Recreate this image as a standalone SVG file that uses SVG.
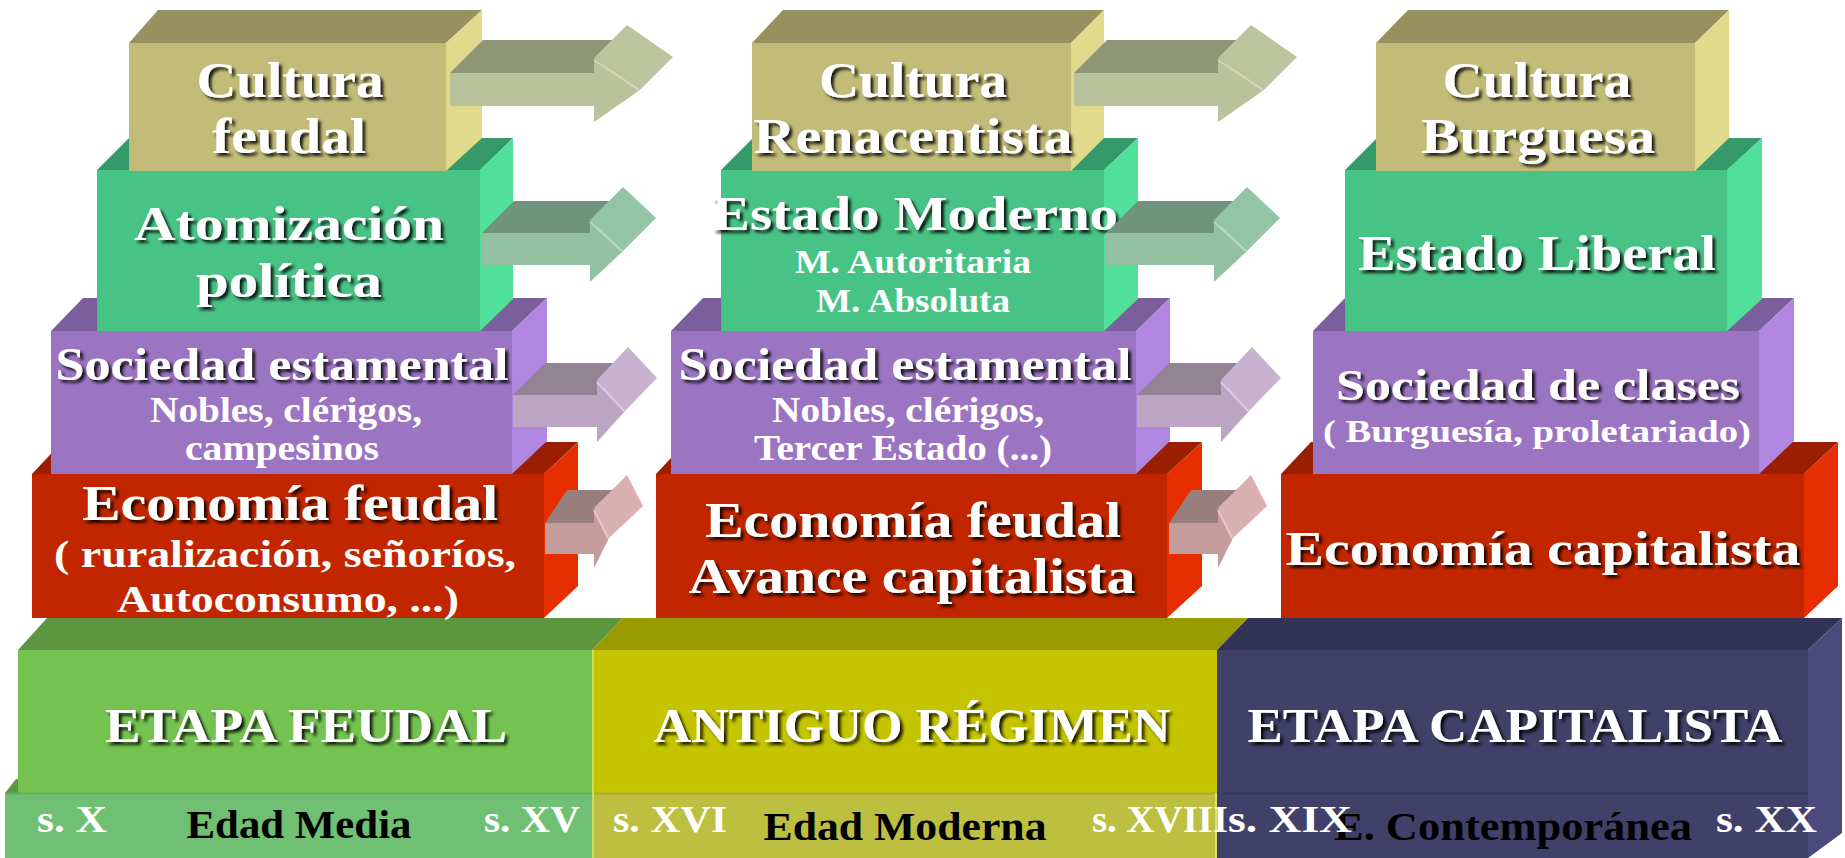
<svg xmlns="http://www.w3.org/2000/svg" width="1845" height="858" viewBox="0 0 1845 858">
<defs>
<filter id="sh" x="-5%" y="-30%" width="115%" height="170%">
<feDropShadow dx="3" dy="3" stdDeviation="1.4" flood-color="#000" flood-opacity="0.85"/>
</filter>
<g id="arrC">
<polygon class="at" points="450,73 483,40 627,40 594,73"/>
<polygon class="as" points="594,58 627,25 673,57 640,90"/>
<polygon class="af" points="450,73 594,73 594,58 640,90 594,122 594,106 450,106"/>
<line class="al" x1="594" y1="60" x2="639" y2="90"/>
</g>
<g id="arrG">
<polygon class="gt" points="482,233 514,201 623,201 590,233"/>
<polygon class="gs" points="590,220 623,187 656,218 623,251"/>
<polygon class="gf" points="482,233 590,233 590,220 623,251 590,282 590,265 482,265"/>
<line class="gl" x1="590" y1="222" x2="622" y2="251"/>
</g>
<g id="arrP">
<polygon class="pt" points="513,395 545,363 629,363 597,395"/>
<polygon class="ps" points="597,380 628,347 657,378 625,411"/>
<polygon class="pf" points="513,395 597,395 597,380 625,411 597,442 597,427 513,427"/>
<line class="pl" x1="597" y1="382" x2="624" y2="411"/>
</g>
<g id="arrR">
<polygon class="rt" points="545,523 567,490 627,490 594,523"/>
<polygon class="rs" points="594,508 627,475 643,506 609,538"/>
<polygon class="rf" points="545,523 594,523 594,508 609,538 594,568 594,554 545,554"/>
<line class="rl" x1="594" y1="510" x2="608" y2="538"/>
</g>
</defs>
<style>
text{font-family:"Liberation Serif","Times New Roman",serif;font-weight:bold;}
.h{fill:#fff;filter:url(#sh);}
.s{fill:#fff;}
.k{fill:#000;}
.m{text-anchor:middle;}
.cT{fill:#96915e;} .cF{fill:#c2bc78;} .cS{fill:#e0da8a;}
.gT{fill:#35996a;} .gF{fill:#48c386;} .gS{fill:#50e09a;}
.pT{fill:#7a5f9c;} .pF{fill:#9b75c2;} .pS{fill:#b086e0;}
.rT{fill:#9a1f00;} .rF{fill:#c22600;} .rS{fill:#e62e00;}
.at{fill:#8e9676;} .af{fill:#b9c29a;} .as{fill:#bcc49d;} .al{stroke:#d2d9b4;stroke-width:2;}
.gt{fill:#6f947a;} .gf{fill:#92c0a0;} .gs{fill:#93c4a3;} .gl{stroke:#b4dcc0;stroke-width:2;}
.pt{fill:#928494;} .pf{fill:#bba5c3;} .ps{fill:#c9b2d0;} .pl{stroke:#dccae2;stroke-width:2;}
.rt{fill:#9a7e7e;} .rf{fill:#c49c9c;} .rs{fill:#d8b0b0;} .rl{stroke:#e8c8c8;stroke-width:2;}
</style>
<rect width="1845" height="858" fill="#fff"/>

<!-- bottom band -->
<g id="etapa-feudal">
<polygon fill="#5c9640" points="18,650 47,618 623,618 592,650"/>
<rect x="18" y="650" width="574" height="143" fill="#74c350"/>
<polygon fill="#5c9640" points="5,793 16,779 18,779 18,793"/>
<rect x="5" y="793" width="587" height="65" fill="#70c073"/>
<line x1="5" y1="793.5" x2="592" y2="793.5" stroke="#64ae64" stroke-width="2"/>
<text class="h m" x="306" y="742" font-size="49" textLength="402" lengthAdjust="spacingAndGlyphs">ETAPA FEUDAL</text>
<text class="k m" x="299" y="838" font-size="39" textLength="225" lengthAdjust="spacingAndGlyphs">Edad Media</text>
<text class="s" x="37" y="832" font-size="38" textLength="70" lengthAdjust="spacingAndGlyphs">s. X</text>
<text class="s" x="484" y="832" font-size="38" textLength="96" lengthAdjust="spacingAndGlyphs">s. XV</text>
</g>
<g id="antiguo-regimen">
<polygon fill="#999900" points="592,650 623,618 1248,618 1217,650"/>
<rect x="592" y="650" width="625" height="143" fill="#c4c400"/>
<rect x="592" y="793" width="625" height="65" fill="#bcbf40"/>
<line x1="592" y1="793.5" x2="1217" y2="793.5" stroke="#adad30" stroke-width="2"/>
<line x1="593" y1="650" x2="593" y2="858" stroke="#c8e060" stroke-width="2"/>
<text class="h m" x="912" y="742" font-size="49" textLength="517" lengthAdjust="spacingAndGlyphs">ANTIGUO RÉGIMEN</text>
<text class="k m" x="905" y="840" font-size="39" textLength="283" lengthAdjust="spacingAndGlyphs">Edad Moderna</text>
<text class="s" x="613" y="832" font-size="38" textLength="114" lengthAdjust="spacingAndGlyphs">s. XVI</text>
</g>
<g id="etapa-capitalista">
<polygon fill="#333355" points="1217,650 1248,618 1842,618 1808,650"/>
<rect x="1217" y="650" width="591" height="143" fill="#404068"/>
<polygon fill="#4a4a7c" points="1808,650 1842,618 1842,833 1808,858"/>
<rect x="1217" y="793" width="591" height="65" fill="#404068"/>
<line x1="1217" y1="793.5" x2="1808" y2="793.5" stroke="#383860" stroke-width="2"/>
<line x1="1216" y1="793" x2="1216" y2="858" stroke="#e0e060" stroke-width="2"/>
<text class="h m" x="1515" y="742" font-size="49" textLength="535" lengthAdjust="spacingAndGlyphs">ETAPA CAPITALISTA</text>
<text class="k m" x="1513" y="840" font-size="39" textLength="358" lengthAdjust="spacingAndGlyphs">E. Contemporánea</text>
<text class="s" x="1092" y="832" font-size="38" textLength="136" lengthAdjust="spacingAndGlyphs">s. XVIII</text>
<text class="s" x="1228" y="832" font-size="38" textLength="124" lengthAdjust="spacingAndGlyphs">s. XIX</text>
<text class="s" x="1716" y="832" font-size="38" textLength="101" lengthAdjust="spacingAndGlyphs">s. XX</text>
</g>

<!-- column 1 -->
<g id="economia-feudal">
<polygon class="rT" points="32,474 62,442 578,442 544,474"/>
<rect class="rF" x="32" y="474" width="512" height="144"/>
<polygon class="rS" points="544,474 578,442 578,586 544,618"/>
<text class="h m" x="290" y="520" font-size="51" textLength="416" lengthAdjust="spacingAndGlyphs">Economía feudal</text>
<text class="s m" x="285" y="567" font-size="38" textLength="462" lengthAdjust="spacingAndGlyphs">( ruralización, señoríos,</text>
<text class="s m" x="288" y="612" font-size="38" textLength="342" lengthAdjust="spacingAndGlyphs">Autoconsumo, ...)</text>
</g>
<g id="sociedad-estamental-1">
<polygon class="pT" points="51,331 83,298 547,298 512,331"/>
<rect class="pF" x="51" y="331" width="461" height="143"/>
<polygon class="pS" points="512,331 547,298 547,441 512,474"/>
<text class="h m" x="282" y="380" font-size="46" textLength="453" lengthAdjust="spacingAndGlyphs">Sociedad estamental</text>
<text class="s m" x="286" y="422" font-size="35" textLength="272" lengthAdjust="spacingAndGlyphs">Nobles, clérigos,</text>
<text class="s m" x="282" y="460" font-size="35" textLength="194" lengthAdjust="spacingAndGlyphs">campesinos</text>
</g>
<g id="atomizacion-politica">
<polygon class="gT" points="97,170 129,138 513,138 480,170"/>
<rect class="gF" x="97" y="170" width="383" height="161"/>
<polygon class="gS" points="480,170 513,138 513,299 480,331"/>
<text class="h m" x="289" y="240" font-size="49" textLength="310" lengthAdjust="spacingAndGlyphs">Atomización</text>
<text class="h m" x="289" y="297" font-size="49" textLength="186" lengthAdjust="spacingAndGlyphs">política</text>
</g>
<g id="cultura-feudal">
<polygon class="cT" points="129,43 158,10 482,10 446,43"/>
<rect class="cF" x="129" y="43" width="317" height="128"/>
<polygon class="cS" points="446,43 482,10 482,138 446,171"/>
<text class="h m" x="290" y="97" font-size="51" textLength="187" lengthAdjust="spacingAndGlyphs">Cultura</text>
<text class="h m" x="289" y="153" font-size="51" textLength="154" lengthAdjust="spacingAndGlyphs">feudal</text>
</g>

<!-- column 2 -->
<g id="economia-feudal-avance">
<polygon class="rT" points="656,474 686,442 1202,442 1167,474"/>
<rect class="rF" x="656" y="474" width="511" height="144"/>
<polygon class="rS" points="1167,474 1202,442 1202,586 1167,618"/>
<text class="h m" x="913" y="537" font-size="51" textLength="416" lengthAdjust="spacingAndGlyphs">Economía feudal</text>
<text class="h m" x="912" y="593" font-size="51" textLength="447" lengthAdjust="spacingAndGlyphs">Avance capitalista</text>
</g>
<g id="sociedad-estamental-2">
<polygon class="pT" points="671,331 703,298 1170,298 1136,331"/>
<rect class="pF" x="671" y="331" width="465" height="143"/>
<polygon class="pS" points="1136,331 1170,298 1170,441 1136,474"/>
<text class="h m" x="905" y="380" font-size="46" textLength="453" lengthAdjust="spacingAndGlyphs">Sociedad estamental</text>
<text class="s m" x="908" y="422" font-size="35" textLength="272" lengthAdjust="spacingAndGlyphs">Nobles, clérigos,</text>
<text class="s m" x="903" y="460" font-size="35" textLength="298" lengthAdjust="spacingAndGlyphs">Tercer Estado (...)</text>
</g>
<g id="estado-moderno">
<polygon class="gT" points="721,170 753,138 1138,138 1104,170"/>
<rect class="gF" x="721" y="170" width="383" height="161"/>
<polygon class="gS" points="1104,170 1138,138 1138,299 1104,331"/>
<text class="h m" x="915" y="230" font-size="49" textLength="406" lengthAdjust="spacingAndGlyphs">Estado Moderno</text>
<text class="s m" x="913" y="273" font-size="34" textLength="236" lengthAdjust="spacingAndGlyphs">M. Autoritaria</text>
<text class="s m" x="913" y="312" font-size="34" textLength="194" lengthAdjust="spacingAndGlyphs">M. Absoluta</text>
</g>
<g id="cultura-renacentista">
<polygon class="cT" points="752,43 783,10 1104,10 1071,43"/>
<rect class="cF" x="752" y="43" width="319" height="128"/>
<polygon class="cS" points="1071,43 1104,10 1104,138 1071,171"/>
<text class="h m" x="913" y="97" font-size="51" textLength="188" lengthAdjust="spacingAndGlyphs">Cultura</text>
<text class="h m" x="913" y="153" font-size="51" textLength="319" lengthAdjust="spacingAndGlyphs">Renacentista</text>
</g>

<!-- column 3 -->
<g id="economia-capitalista">
<polygon class="rT" points="1281,474 1311,442 1838,442 1804,474"/>
<rect class="rF" x="1281" y="474" width="523" height="144"/>
<polygon class="rS" points="1804,474 1838,442 1838,586 1804,618"/>
<text class="h m" x="1543" y="565" font-size="49" textLength="515" lengthAdjust="spacingAndGlyphs">Economía capitalista</text>
</g>
<g id="sociedad-de-clases">
<polygon class="pT" points="1313,331 1345,298 1794,298 1759,331"/>
<rect class="pF" x="1313" y="331" width="446" height="143"/>
<polygon class="pS" points="1759,331 1794,298 1794,441 1759,474"/>
<text class="h m" x="1538" y="400" font-size="45" textLength="404" lengthAdjust="spacingAndGlyphs">Sociedad de clases</text>
<text class="s m" x="1537" y="442" font-size="32" textLength="428" lengthAdjust="spacingAndGlyphs">( Burguesía, proletariado)</text>
</g>
<g id="estado-liberal">
<polygon class="gT" points="1345,170 1377,138 1762,138 1727,170"/>
<rect class="gF" x="1345" y="170" width="382" height="161"/>
<polygon class="gS" points="1727,170 1762,138 1762,299 1727,331"/>
<text class="h m" x="1537" y="270" font-size="51" textLength="358" lengthAdjust="spacingAndGlyphs">Estado Liberal</text>
</g>
<g id="cultura-burguesa">
<polygon class="cT" points="1376,43 1408,10 1729,10 1695,43"/>
<rect class="cF" x="1376" y="43" width="319" height="128"/>
<polygon class="cS" points="1695,43 1729,10 1729,138 1695,171"/>
<text class="h m" x="1537" y="97" font-size="51" textLength="189" lengthAdjust="spacingAndGlyphs">Cultura</text>
<text class="h m" x="1538" y="153" font-size="51" textLength="234" lengthAdjust="spacingAndGlyphs">Burguesa</text>
</g>

<!-- connectors -->
<g id="connectors">
<use href="#arrC"/>
<use href="#arrG"/>
<use href="#arrP"/>
<use href="#arrR"/>
<use href="#arrC" transform="translate(624,0)"/>
<use href="#arrG" transform="translate(624,0)"/>
<use href="#arrP" transform="translate(624,0)"/>
<use href="#arrR" transform="translate(624,0)"/>
</g>
</svg>
